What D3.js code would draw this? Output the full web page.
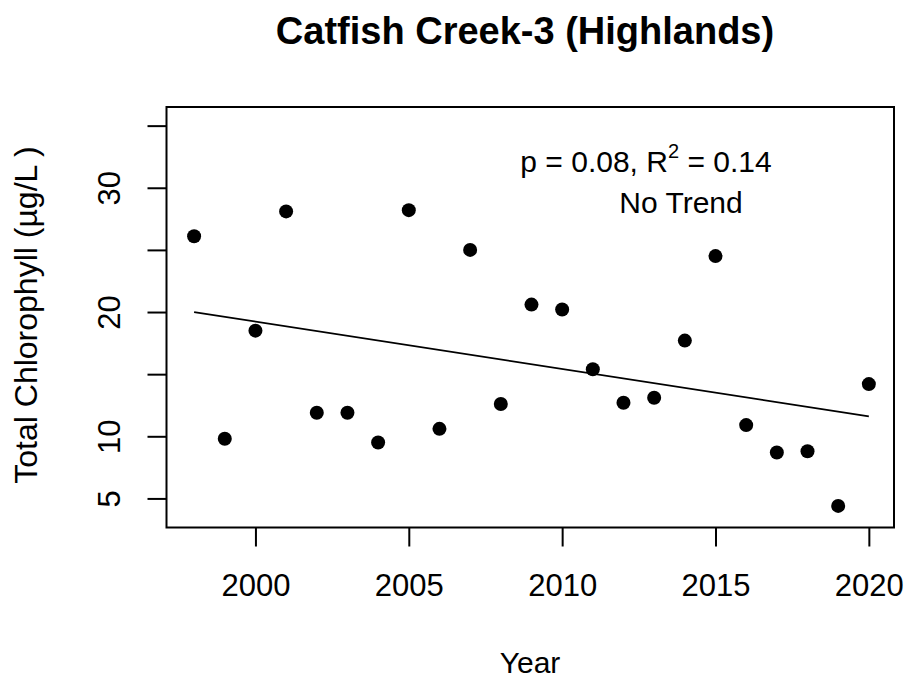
<!DOCTYPE html>
<html>
<head>
<meta charset="utf-8">
<script src="https://cdn.jsdelivr.net/npm/d3@7"></script>
<style>
  html, body { margin: 0; padding: 0; background: #fff; }
  svg { display: block; font-family: "Liberation Sans", Arial, sans-serif; }
</style>
</head>
<body>
<svg id="chart" width="909" height="679"></svg>
<script>
// ---- data ----
const years = [1998,1999,2000,2001,2002,2003,2004,2005,2006,2007,2008,2009,2010,2011,2012,2013,2014,2015,2016,2017,2018,2019,2020];
const chlorophyll = [26.1,9.8,18.5,28.1,11.9,11.9,9.5,28.2,10.6,25.0,12.6,20.6,20.2,15.4,12.7,13.1,17.7,24.5,10.9,8.7,8.8,4.4,14.2];
const trendYears = [1998, 2020];
const trendValues = [20.0, 11.6];
const xTickValues = [2000, 2005, 2010, 2015, 2020];
const yTickValues = [5, 10, 15, 20, 25, 30, 35];
const yTickLabels = [5, 10, 20, 30];
const titleText = "Catfish Creek-3 (Highlands)";
const xLabel = "Year";
const yLabel = "Total Chlorophyll (\u00b5g/L )";
const statsText = ["p = 0.08, R", "2", " = 0.14"];
const trendText = "No Trend";

// ---- layout ----
const svg = d3.select("#chart");
const mLeft = 166.5, mRight = 894, mTop = 107, mBottom = 527.5;

const x = d3.scaleLinear().domain([1997.1, 2020.82]).range([mLeft, mRight]);
const y = d3.scaleLinear().domain([2.66, 36.5]).range([mBottom, mTop]);

// title
svg.append("text")
  .attr("x", 525).attr("y", 44)
  .attr("text-anchor", "middle")
  .attr("font-size", 38).attr("font-weight", "bold")
  .attr("fill", "#000")
  .text(titleText);

// x axis
const xAxis = svg.append("g")
  .attr("transform", `translate(0,${mBottom})`)
  .call(d3.axisBottom(x).tickValues(xTickValues).tickSize(19).tickFormat(d3.format("d")));
xAxis.select(".domain").remove();
xAxis.selectAll(".tick line").attr("stroke", "#000").attr("stroke-width", 2);
xAxis.selectAll(".tick text")
  .attr("y", 68).attr("dy", 0)
  .attr("font-size", 31).attr("fill", "#000")
  .attr("font-family", "Liberation Sans, Arial, sans-serif");

// y axis
const yAxis = svg.append("g")
  .attr("transform", `translate(${mLeft},0)`)
  .call(d3.axisLeft(y).tickValues(yTickValues).tickSize(19)
    .tickFormat(d => yTickLabels.includes(d) ? String(d) : ""));
yAxis.select(".domain").remove();
yAxis.selectAll(".tick line").attr("stroke", "#000").attr("stroke-width", 2);
yAxis.selectAll(".tick text")
  .attr("transform", "rotate(-90)")
  .attr("x", 0).attr("y", -46.5).attr("dy", 0)
  .attr("text-anchor", "middle")
  .attr("font-size", 31).attr("fill", "#000")
  .attr("font-family", "Liberation Sans, Arial, sans-serif");

// plot box
svg.append("rect")
  .attr("x", mLeft).attr("y", mTop)
  .attr("width", mRight - mLeft).attr("height", mBottom - mTop)
  .attr("fill", "none").attr("stroke", "#000").attr("stroke-width", 2);

// axis labels
svg.append("text")
  .attr("x", 530).attr("y", 673)
  .attr("text-anchor", "middle")
  .attr("font-size", 30).attr("fill", "#000")
  .text(xLabel);

svg.append("text")
  .attr("transform", "translate(37,315) rotate(-90)")
  .attr("text-anchor", "middle")
  .attr("font-size", 32).attr("fill", "#000")
  .text(yLabel);

// trend line
const trend = trendYears.map((yr, i) => [yr, trendValues[i]]);
svg.append("path")
  .datum(trend)
  .attr("d", d3.line().x(d => x(d[0])).y(d => y(d[1])))
  .attr("fill", "none").attr("stroke", "#000").attr("stroke-width", 1.8);

// points
svg.append("g").selectAll("circle")
  .data(years.map((yr, i) => [yr, chlorophyll[i]]))
  .join("circle")
  .attr("cx", d => x(d[0]))
  .attr("cy", d => y(d[1]))
  .attr("r", 7)
  .attr("fill", "#000");

// annotation
const stats = svg.append("text")
  .attr("x", 646).attr("y", 172)
  .attr("text-anchor", "middle")
  .attr("font-size", 30).attr("fill", "#000");
stats.append("tspan").text(statsText[0]);
stats.append("tspan").attr("dy", -14).attr("font-size", 20).text(statsText[1]);
stats.append("tspan").attr("dy", 14).text(statsText[2]);

svg.append("text")
  .attr("x", 681).attr("y", 213)
  .attr("text-anchor", "middle")
  .attr("font-size", 30).attr("fill", "#000")
  .text(trendText);
</script>
</body>
</html>
